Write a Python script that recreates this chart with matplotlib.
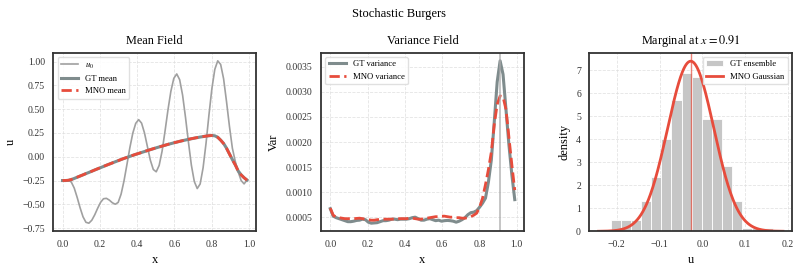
import numpy as np
from matplotlib import pyplot as plt

# grid
x = np.linspace(0, 0.99, 64)

# initial condition u0
u0 = [-0.25, -0.245, -0.245, -0.266, -0.329, -0.427, -0.536, -0.631, -0.689, -0.698,
      -0.667, -0.610, -0.541, -0.479, -0.441, -0.437, -0.456, -0.483, -0.499, -0.480,
      -0.393, -0.253, -0.081, 0.096, 0.248, 0.351, 0.390, 0.353, 0.249, 0.105,
      -0.037, -0.134, -0.158, -0.091, 0.059, 0.268, 0.491, 0.688, 0.824, 0.870,
      0.810, 0.648, 0.413, 0.153, -0.088, -0.260, -0.334, -0.286, -0.116, 0.140,
      0.439, 0.715, 0.918, 1.008, 0.970, 0.820, 0.580, 0.320, 0.090, -0.050,
      -0.160, -0.250, -0.285, -0.245]

gt_mean = [-0.25, -0.25, -0.248, -0.24, -0.228, -0.215, -0.203, -0.19, -0.177, -0.165,
           -0.152, -0.139, -0.127, -0.114, -0.102, -0.089, -0.077, -0.065, -0.053, -0.041,
           -0.029, -0.018, -0.007, 0.004, 0.015, 0.025, 0.035, 0.045, 0.055, 0.065,
           0.075, 0.084, 0.094, 0.103, 0.112, 0.121, 0.130, 0.138, 0.146, 0.154,
           0.162, 0.169, 0.176, 0.183, 0.189, 0.195, 0.201, 0.207, 0.212, 0.217,
           0.221, 0.224, 0.220, 0.205, 0.175, 0.140, 0.090, 0.030, -0.030, -0.085,
           -0.150, -0.190, -0.220, -0.245]

mno_mean = [-0.25, -0.249, -0.247, -0.239, -0.227, -0.215, -0.202, -0.19, -0.177, -0.164,
            -0.152, -0.139, -0.126, -0.114, -0.101, -0.089, -0.077, -0.065, -0.052, -0.041,
            -0.029, -0.017, -0.007, 0.004, 0.015, 0.026, 0.035, 0.045, 0.056, 0.065,
            0.075, 0.085, 0.094, 0.103, 0.112, 0.121, 0.130, 0.139, 0.147, 0.154,
            0.162, 0.169, 0.176, 0.183, 0.190, 0.196, 0.202, 0.207, 0.212, 0.217,
            0.221, 0.223, 0.219, 0.204, 0.174, 0.138, 0.089, 0.029, -0.031, -0.086,
            -0.150, -0.191, -0.221, -0.246]

# variance (x 1e-4)
gt_var = [6.7, 5.2, 4.9, 4.7, 4.5, 4.3, 4.1, 4.1, 4.2, 4.35,
          4.4, 4.6, 4.5, 4.0, 3.8, 3.85, 3.9, 4.1, 4.3, 4.3,
          4.4, 4.6, 4.6, 4.5, 4.6, 4.6, 4.6, 4.7, 4.9, 5.0,
          4.7, 4.4, 4.4, 4.6, 4.7, 4.5, 4.3, 4.4, 4.2, 4.3,
          4.35, 4.3, 4.2, 4.0, 4.2, 4.5, 4.9, 5.5, 5.9, 6.0,
          6.3, 7.0, 7.8, 8.8, 12.0, 16.4, 24.0, 32.0, 36.2, 33.5,
          26.5, 19.5, 13.5, 8.5]

mno_var = [6.8, 5.4, 5.0, 4.9, 4.8, 4.7, 4.7, 4.7, 4.7, 4.75,
           4.8, 4.7, 4.6, 4.5, 4.4, 4.4, 4.5, 4.55, 4.6, 4.6,
           4.6, 4.6, 4.65, 4.7, 4.7, 4.7, 4.7, 4.8, 4.8, 4.7,
           4.6, 4.6, 4.7, 4.8, 4.9, 5.0, 5.1, 5.1, 5.2, 5.2,
           5.1, 5.0, 5.0, 4.9, 4.9, 4.8, 4.8, 4.9, 5.1, 5.4,
           5.8, 7.0, 8.8, 11.5, 14.5, 18.0, 23.5, 27.5, 29.2, 29.0,
           26.5, 21.0, 15.5, 10.4]

x_probe = 0.91

# marginal histogram at x_probe
bin_lo, bin_hi, n_bins = -0.214, 0.164, 16
hist_density = [0.49, 0.49, 0.49, 1.33, 2.35, 4.01, 5.71, 6.87,
                6.72, 4.87, 4.87, 2.84, 1.33, 0.16, 0.16, 0.16]
mno_mu = -0.0272
mno_sigma = 0.0539

RED = '#e74c3c'
GT = '#7f8c8d'

plt.rcParams['font.family'] = ['Liberation Serif', 'DejaVu Serif']
plt.rcParams['mathtext.fontset'] = 'stix'
plt.rcParams['axes.edgecolor'] = '#333333'
plt.rcParams['axes.linewidth'] = 1.3
plt.rcParams['xtick.color'] = '#333333'
plt.rcParams['ytick.color'] = '#333333'
plt.rcParams['xtick.major.size'] = 0
plt.rcParams['ytick.major.size'] = 0
plt.rcParams['xtick.labelsize'] = 7
plt.rcParams['ytick.labelsize'] = 7

fig = plt.figure(figsize=(7.99, 2.71), dpi=100)
w, h, b = 0.254, 0.659, 0.1465
ax1 = fig.add_axes([0.0667, b, w, h])
ax2 = fig.add_axes([0.4018, b, w, h])
ax3 = fig.add_axes([0.7375, b, w, h])

leg_kw = dict(fontsize=6.2, framealpha=0.9, edgecolor='#dddddd')

for ax in (ax1, ax2, ax3):
    ax.grid(True, ls='--', lw=0.6, color='#dddddd', alpha=0.8)
    ax.set_axisbelow(True)
    ax.tick_params(pad=6)

# Mean field
ax1.plot(x, u0, color='#a0a0a0', lw=1.2, label='$u_0$')
ax1.plot(x, gt_mean, color=GT, lw=2.2, label='GT mean')
ax1.plot(x, mno_mean, color=RED, lw=2, ls='--', label='MNO mean')
ax1.set_title('Mean Field', fontsize=8.8)
ax1.set_xlabel('x', fontsize=9)
ax1.set_ylabel('u', fontsize=9)
ax1.legend(loc='upper left', **leg_kw)

# Variance field
ax2.plot(x, np.array(gt_var) * 1e-4, color=GT, lw=2.2, label='GT variance')
ax2.plot(x, np.array(mno_var) * 1e-4, color=RED, lw=2, ls='--', label='MNO variance')
ax2.axvline(x_probe, color='#aaaaaa', lw=1.2, alpha=0.8)
ax2.set_title('Variance Field', fontsize=8.8)
ax2.set_xlabel('x', fontsize=9)
ax2.set_ylabel('Var', fontsize=9)
ax2.legend(loc='upper left', **leg_kw)

# Marginal
edges = np.linspace(bin_lo, bin_hi, n_bins + 1)
bars = ax3.bar(edges[:-1], hist_density, width=np.diff(edges), align='edge',
               color='#c6c6c6', edgecolor='white', lw=0.6, label='GT ensemble')
uu = np.linspace(mno_mu - 4 * mno_sigma, mno_mu + 4 * mno_sigma, 300)
pdf = np.exp(-0.5 * ((uu - mno_mu) / mno_sigma) ** 2) / (mno_sigma * np.sqrt(2 * np.pi))
line, = ax3.plot(uu, pdf, color=RED, lw=2, label='MNO Gaussian')
ax3.axvline(mno_mu, color=RED, lw=1, alpha=0.7)
ax3.set_title(f'Marginal at $x={x_probe:.2f}$', fontsize=8.8)
ax3.set_xlabel('u', fontsize=9)
ax3.set_ylabel('density', fontsize=9)
ax3.legend([bars, line], ['GT ensemble', 'MNO Gaussian'], loc='upper right', **leg_kw)

fig.suptitle('Stochastic Burgers', fontsize=9, y=0.972)

fig.savefig('out.png', dpi=100)
